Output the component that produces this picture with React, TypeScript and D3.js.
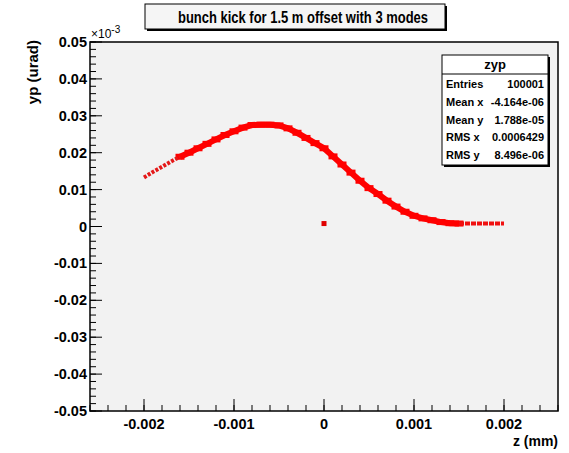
import React from "react";
import * as d3 from "d3";

// z (mm)
const zValues = [
  -0.0020, -0.0019, -0.0018, -0.0017, -0.0016, -0.0015, -0.0014, -0.0013, -0.0012, -0.0011,
  -0.0010, -0.0009, -0.0008, -0.0007, -0.0006, -0.0005, -0.0004, -0.0003, -0.0002, -0.0001,
  0.0000, 0.0001, 0.0002, 0.0003, 0.0004, 0.0005, 0.0006, 0.0007, 0.0008, 0.0009,
  0.0010, 0.0011, 0.0012, 0.0013, 0.0014, 0.0015, 0.0016, 0.0017, 0.0018, 0.0019, 0.0020,
];
// yp (urad), in units of 1e-3
const ypValues = [
  0.0133, 0.0148, 0.0162, 0.0176, 0.0189, 0.0200, 0.0212, 0.0224, 0.0236, 0.0248,
  0.0258, 0.0268, 0.0275, 0.0276, 0.0276, 0.0274, 0.0266, 0.0254, 0.0240, 0.0226,
  0.0212, 0.0190, 0.0168, 0.0146, 0.0124, 0.0104, 0.0088, 0.0070, 0.0054, 0.0040,
  0.0029, 0.0022, 0.0017, 0.0012, 0.0009, 0.0008, 0.0008, 0.0008, 0.0008, 0.0008, 0.0008,
];
// isolated point
const loneZ = [0.0];
const loneY = [0.0008];

const xTicks = [-0.002, -0.001, 0, 0.001, 0.002];
const xTickLabels = ["-0.002", "-0.001", "0", "0.001", "0.002"];
const yTicks = [0.05, 0.04, 0.03, 0.02, 0.01, 0, -0.01, -0.02, -0.03, -0.04, -0.05];
const yTickLabels = ["0.05", "0.04", "0.03", "0.02", "0.01", "0", "-0.01", "-0.02", "-0.03", "-0.04", "-0.05"];

const statLabels = ["Entries", "Mean x", "Mean y", "RMS x", "RMS y"];
const statValues = ["100001", "-4.164e-06", "1.788e-05", "0.0006429", "8.496e-06"];

const FONT = "'Liberation Sans', Arial, Helvetica, sans-serif";

export default function App() {
  const W = 569, H = 453;
  const L = 90, R = 558, T = 42, B = 411;
  const x = d3.scaleLinear().domain([-0.0026, 0.0026]).range([L, R]);
  const y = d3.scaleLinear().domain([-0.05, 0.05]).range([B, T]);

  const xMinor = d3.range(-0.0026, 0.00261, 0.0002).map((v) => +v.toFixed(5));
  const yMinor = d3.range(-0.05, 0.0501, 0.002).map((v) => +v.toFixed(4));

  const pts = zValues.map((z, i) => [z, ypValues[i]] as [number, number]);
  const thick = pts.filter((p) => p[0] >= -0.00165 && p[0] <= 0.00155);
  const thinL = pts.filter((p) => p[0] <= -0.0016);
  const thinR = pts.filter((p) => p[0] >= 0.0015);
  const line = d3.line<[number, number]>().x((d) => x(d[0])).y((d) => y(d[1]));

  return (
    <svg width={W} height={H} style={{ position: "absolute", left: 0, top: 0, background: "#fff" }} fontFamily={FONT}>
      <rect x={0} y={0} width={W} height={H} fill="#fff" />
      {/* frame */}
      <rect x={L} y={T} width={R - L} height={B - T} fill="#f2f2f2" stroke="#000" strokeWidth={1.5} />

      {/* data */}
      <path d={line(thick) || ""} fill="none" stroke="#ff0000" strokeWidth={6} strokeLinejoin="miter" />
      {thick.map((p, i) => (
        <rect key={"r" + i} x={x(p[0]) - 4.5} y={y(p[1]) - 3} width={9} height={6} fill="#ff0000" />
      ))}
      <path d={line(thinL) || ""} fill="none" stroke="#e41818" strokeWidth={4} strokeDasharray="3 1.5" />
      <path d={line(thinR) || ""} fill="none" stroke="#f01010" strokeWidth={4} strokeDasharray="5 1" />
      {loneZ.map((z, i) => (
        <rect key={"l" + i} x={x(z) - 2.5} y={y(loneY[i]) - 2.5} width={5} height={5} fill="#e00000" />
      ))}

      {/* x axis ticks */}
      {xMinor.map((v, i) => (
        <line key={"xm" + i} x1={x(v)} x2={x(v)} y1={B} y2={B - 6} stroke="#000" strokeWidth={1} />
      ))}
      {xTicks.map((v, i) => (
        <g key={"xt" + i}>
          <line x1={x(v)} x2={x(v)} y1={B} y2={B - 12} stroke="#000" strokeWidth={1} />
          <text x={x(v)} y={B + 18} textAnchor="middle" fontSize={14.5} fontWeight="bold">{xTickLabels[i]}</text>
        </g>
      ))}
      {/* y axis ticks */}
      {yMinor.map((v, i) => (
        <line key={"ym" + i} x1={L} x2={L + 6} y1={y(v)} y2={y(v)} stroke="#000" strokeWidth={1} />
      ))}
      {yTicks.map((v, i) => (
        <g key={"yt" + i}>
          <line x1={L} x2={L + 12} y1={y(v)} y2={y(v)} stroke="#000" strokeWidth={1} />
          <text x={L - 3} y={y(v) + 5} textAnchor="end" fontSize={14.5} fontWeight="bold">{yTickLabels[i]}</text>
        </g>
      ))}
      {/* exponent */}
      <text x={91} y={38} fontSize={12} fontWeight="normal">×10<tspan dy={-5} fontSize={10}>-3</tspan></text>

      {/* axis titles */}
      <text x={R} y={446} textAnchor="end" fontSize={14} fontWeight="bold">z (mm)</text>
      <text transform={`translate(38,40) rotate(-90)`} textAnchor="end" fontSize={15} fontWeight="bold">yp (urad)</text>

      {/* title box */}
      <rect x={147} y={6} width={300} height={25} fill="#000" />
      <rect x={145} y={4} width={300} height={25} fill="#f5f5f5" stroke="#000" strokeWidth={1} />
      <text x={178} y={22.5} fontSize={16.5} fontWeight="bold" textLength={250} lengthAdjust="spacingAndGlyphs">bunch kick for 1.5 m offset with 3 modes</text>

      {/* stats box */}
      <rect x={444} y={57} width={106} height={110} fill="#000" />
      <rect x={442} y={55} width={106} height={110} fill="#fff" stroke="#000" strokeWidth={1} />
      <line x1={442} x2={548} y1={74} y2={74} stroke="#000" strokeWidth={1} />
      <text x={495} y={69} textAnchor="middle" fontSize={13} fontWeight="bold">zyp</text>
      {statLabels.map((s, i) => (
        <g key={"s" + i}>
          <text x={446} y={88 + i * 17.8} fontSize={11} fontWeight="bold">{s}</text>
          <text x={544} y={88 + i * 17.8} textAnchor="end" fontSize={11} fontWeight="bold">{statValues[i]}</text>
        </g>
      ))}
    </svg>
  );
}
